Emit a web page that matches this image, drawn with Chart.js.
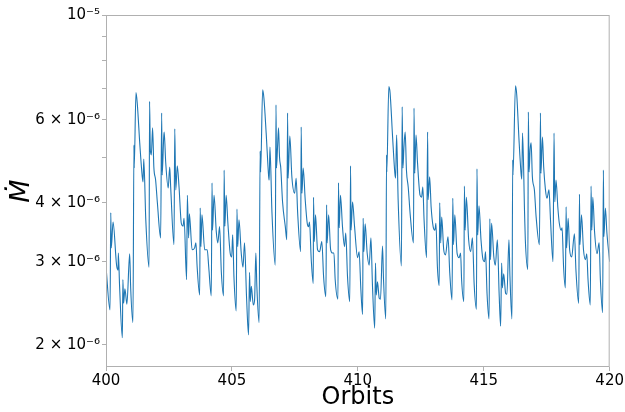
<!DOCTYPE html>
<html>
<head>
<meta charset="utf-8">
<script src="https://cdn.jsdelivr.net/npm/chart.js@4/dist/chart.umd.min.js"></script>
<style>
  body { margin: 0; background: #fff; }
  #wrap { width: 625px; height: 412px; }
</style>
</head>
<body>
<div id="wrap"><canvas id="mdot"></canvas></div>
<script>
// orbit number
const orbits = [
  400.00, 400.16, 400.19, 400.21, 400.28, 400.42, 400.48, 400.49, 400.54, 400.65,
  400.67, 400.70, 400.75, 400.83, 400.94, 400.98, 401.07, 401.11, 401.12, 401.19,
  401.24, 401.35, 401.44, 401.47, 401.50, 401.58, 401.71, 401.73, 401.76, 401.80,
  401.85, 401.90, 401.97, 402.04, 402.17, 402.21, 402.23, 402.29, 402.31, 402.37,
  402.47, 402.53, 402.57, 402.70, 402.73, 402.77, 402.83, 402.90, 402.99, 403.06,
  403.10, 403.20, 403.23, 403.28, 403.31, 403.42, 403.52, 403.57, 403.62, 403.72,
  403.74, 403.77, 403.81, 403.92, 404.02, 404.08, 404.18, 404.21, 404.23, 404.29,
  404.38, 404.44, 404.51, 404.58, 404.67, 404.69, 404.72, 404.77, 404.84, 404.93,
  404.99, 405.03, 405.08, 405.17, 405.20, 405.23, 405.28, 405.37, 405.44, 405.50,
  405.58, 405.66, 405.70, 405.73, 405.77, 405.85, 405.90, 405.95, 405.99, 406.08,
  406.12, 406.14, 406.22, 406.27, 406.36, 406.46, 406.48, 406.51, 406.59, 406.72,
  406.75, 406.77, 406.81, 406.85, 406.89, 406.94, 407.01, 407.12, 407.18, 407.21,
  407.23, 407.30, 407.38, 407.49, 407.55, 407.61, 407.73, 407.75, 407.78, 407.83,
  407.91, 407.99, 408.04, 408.08, 408.15, 408.23, 408.24, 408.27, 408.32, 408.40,
  408.48, 408.57, 408.64, 408.73, 408.76, 408.78, 408.84, 408.92, 409.00, 409.05,
  409.10, 409.21, 409.23, 409.26, 409.31, 409.39, 409.47, 409.52, 409.59, 409.68,
  409.71, 409.73, 409.79, 409.87, 409.99, 410.05, 410.12, 410.19, 410.21, 410.24,
  410.29, 410.37, 410.45, 410.52, 410.58, 410.67, 410.70, 410.73, 410.78, 410.85,
  410.90, 410.98, 411.02, 411.11, 411.14, 411.15, 411.23, 411.28, 411.38, 411.47,
  411.50, 411.54, 411.60, 411.73, 411.76, 411.79, 411.83, 411.88, 411.93, 412.00,
  412.08, 412.21, 412.23, 412.26, 412.31, 412.37, 412.47, 412.53, 412.58, 412.63,
  412.73, 412.77, 412.79, 412.85, 412.91, 412.99, 413.06, 413.10, 413.16, 413.23,
  413.25, 413.29, 413.33, 413.41, 413.48, 413.58, 413.65, 413.74, 413.77, 413.80,
  413.85, 413.94, 414.02, 414.08, 414.12, 414.21, 414.23, 414.26, 414.31, 414.40,
  414.48, 414.55, 414.62, 414.71, 414.73, 414.76, 414.81, 414.89, 414.97, 415.03,
  415.07, 415.13, 415.21, 415.24, 415.27, 415.31, 415.40, 415.46, 415.54, 415.61,
  415.67, 415.71, 415.74, 415.79, 415.87, 415.92, 416.00, 416.04, 416.12, 416.15,
  416.16, 416.26, 416.31, 416.40, 416.48, 416.51, 416.54, 416.62, 416.65, 416.75,
  416.77, 416.80, 416.84, 416.88, 416.93, 417.01, 417.08, 417.21, 417.25, 417.27,
  417.33, 417.38, 417.45, 417.51, 417.59, 417.65, 417.75, 417.79, 417.82, 417.87,
  417.94, 418.00, 418.07, 418.11, 418.17, 418.24, 418.27, 418.29, 418.35, 418.41,
  418.49, 418.60, 418.66, 418.77, 418.80, 418.82, 418.88, 418.96, 419.04, 419.09,
  419.14, 419.23, 419.26, 419.29, 419.33, 419.40, 419.50, 419.58, 419.63, 419.72,
  419.75, 419.77, 419.83, 419.89, 420.00
];

// accretion rate, in units of 1e-6
const mdot = [
  2.93, 2.37, 3.81, 3.21, 3.64, 2.95, 2.88, 3.13, 2.66, 2.07,
  2.75, 2.45, 2.63, 2.44, 3.12, 2.64, 2.23, 5.30, 4.74, 6.85,
  6.51, 5.25, 4.54, 4.43, 4.95, 3.68, 2.92, 6.56, 5.18, 5.05,
  5.77, 4.76, 4.47, 4.00, 3.37, 6.20, 4.58, 5.49, 5.65, 4.88,
  4.30, 4.76, 4.30, 3.26, 5.74, 4.26, 4.79, 4.32, 3.62, 3.57,
  3.71, 2.75, 4.15, 3.37, 3.79, 3.18, 3.21, 3.29, 2.92, 2.55,
  3.90, 3.23, 3.77, 3.18, 3.18, 2.92, 2.54, 4.41, 3.50, 4.15,
  3.47, 3.29, 3.56, 2.85, 2.54, 4.69, 3.57, 4.15, 3.62, 3.13,
  3.07, 3.42, 2.79, 2.36, 3.88, 3.23, 3.68, 3.13, 2.92, 3.29,
  2.53, 2.10, 2.85, 2.47, 2.66, 2.43, 2.49, 3.13, 2.66, 2.23,
  5.15, 4.65, 6.94, 6.67, 5.62, 4.54, 4.47, 5.25, 3.81, 2.95,
  6.45, 4.74, 5.23, 5.77, 5.00, 4.74, 4.02, 3.56, 3.34, 6.20,
  4.51, 5.54, 4.54, 4.19, 4.51, 3.81, 3.15, 5.79, 4.19, 4.74,
  4.06, 3.62, 3.56, 3.64, 3.03, 2.70, 4.11, 3.31, 3.77, 3.18,
  3.15, 3.31, 2.79, 2.53, 3.96, 3.29, 3.77, 3.18, 3.13, 3.13,
  2.75, 2.50, 4.41, 3.54, 4.15, 3.56, 3.23, 3.45, 2.79, 2.47,
  4.79, 3.50, 4.02, 3.56, 3.06, 3.15, 2.62, 2.32, 3.71, 3.15,
  3.61, 3.13, 2.95, 3.37, 2.68, 2.17, 2.98, 2.55, 2.72, 2.51,
  2.50, 3.24, 2.75, 2.27, 5.05, 4.65, 7.05, 6.84, 5.51, 4.62,
  4.51, 5.57, 4.06, 2.94, 6.39, 4.74, 5.25, 5.65, 4.69, 4.32,
  3.77, 3.29, 6.35, 4.62, 5.57, 4.86, 4.15, 4.11, 4.32, 3.68,
  3.06, 5.65, 4.06, 4.54, 3.92, 3.56, 3.50, 3.62, 2.92, 2.67,
  4.00, 3.29, 3.73, 3.18, 3.10, 3.39, 2.84, 2.49, 4.09, 3.26,
  3.77, 3.13, 3.06, 3.13, 2.75, 2.47, 4.34, 3.50, 4.11, 3.34,
  3.15, 3.37, 2.68, 2.38, 4.72, 3.42, 3.94, 3.34, 3.03, 3.00,
  3.15, 2.57, 2.27, 3.70, 3.03, 3.62, 3.07, 2.95, 3.34, 2.57,
  2.19, 2.98, 2.64, 2.83, 2.57, 2.56, 3.34, 2.79, 2.27, 4.93,
  4.58, 7.08, 6.77, 5.43, 4.62, 4.49, 5.62, 3.81, 3.34, 2.89,
  6.23, 4.65, 5.18, 5.36, 4.54, 4.26, 3.73, 3.26, 6.20, 4.62,
  5.51, 4.76, 4.26, 4.09, 4.26, 3.68, 3.00, 5.62, 4.02, 4.47,
  3.92, 3.62, 3.50, 3.54, 2.92, 2.64, 3.92, 3.21, 3.71, 3.18,
  3.07, 3.44, 2.88, 2.45, 4.17, 3.26, 3.77, 3.18, 3.03, 3.12,
  2.75, 2.43, 4.34, 3.50, 4.11, 3.47, 3.12, 3.29, 2.75, 2.34,
  4.69, 3.39, 3.90, 3.45, 3.00
];

const xTicks = [400, 405, 410, 415, 420];
const yTicks = [2e-6, 3e-6, 4e-6, 5e-6, 6e-6, 7e-6, 8e-6, 9e-6, 1e-5];
const yTickLabels = ["2 × 10⁻⁶", "3 × 10⁻⁶", "4 × 10⁻⁶", "", "6 × 10⁻⁶", "", "", "", "10⁻⁵"];

const spineColor = "#b0b0b0";

// matplotlib-style box around the axes
const frame = {
  id: "frame",
  afterDraw(chart) {
    const { ctx, chartArea: a } = chart;
    ctx.save();
    ctx.strokeStyle = spineColor;
    ctx.lineWidth = 1;
    ctx.strokeRect(a.left + 0.5, a.top + 0.5, a.right - a.left - 1, a.bottom - a.top - 1);
    ctx.restore();
  }
};

new Chart(document.getElementById("mdot"), {
  type: "line",
  data: {
    datasets: [
      {
        data: orbits.map((x, i) => ({ x: x, y: mdot[i] * 1e-6 })),
        borderColor: "#1f77b4",
        borderWidth: 1.1,
        pointRadius: 0,
        cubicInterpolationMode: "monotone",
        fill: false,
      },
    ],
  },
  options: {
    responsive: true,
    maintainAspectRatio: false,
    animation: false,
    layout: { padding: { top: 15, right: 15, left: 0, bottom: 0 } },
    plugins: { legend: { display: false }, tooltip: { enabled: false } },
    scales: {
      x: {
        type: "linear",
        min: 400,
        max: 420,
        afterBuildTicks: (s) => { s.ticks = xTicks.map((v) => ({ value: v })); },
        afterFit: (s) => { s.height = 45; },
        grid: { drawOnChartArea: false, drawTicks: true, tickLength: 4, color: spineColor },
        border: { display: false },
        ticks: { color: "#000", padding: 1, maxRotation: 0, font: { family: "DejaVu Sans", size: 15 } },
        title: {
          display: true,
          text: "Orbits",
          color: "#000",
          padding: { top: 0, bottom: 0 },
          font: { family: "DejaVu Sans", size: 24, lineHeight: 1.2 },
        },
      },
      y: {
        type: "logarithmic",
        min: 1.795e-6,
        max: 1e-5,
        afterBuildTicks: (s) => { s.ticks = yTicks.map((v) => ({ value: v })); },
        afterFit: (s) => { s.width = 106; },
        grid: { drawOnChartArea: false, drawTicks: true, tickLength: 4, color: spineColor },
        border: { display: false },
        ticks: {
          color: "#000",
          padding: 2,
          autoSkip: false,
          font: { family: "DejaVu Sans", size: 15 },
          callback: (v, i) => yTickLabels[i],
        },
        title: {
          display: true,
          text: "Ṁ",
          color: "#000",
          padding: { top: 6, bottom: 0 },
          font: { family: "DejaVu Sans", size: 27, style: "italic", lineHeight: 1.2 },
        },
      },
    },
  },
  plugins: [frame],
});
</script>
</body>
</html>
